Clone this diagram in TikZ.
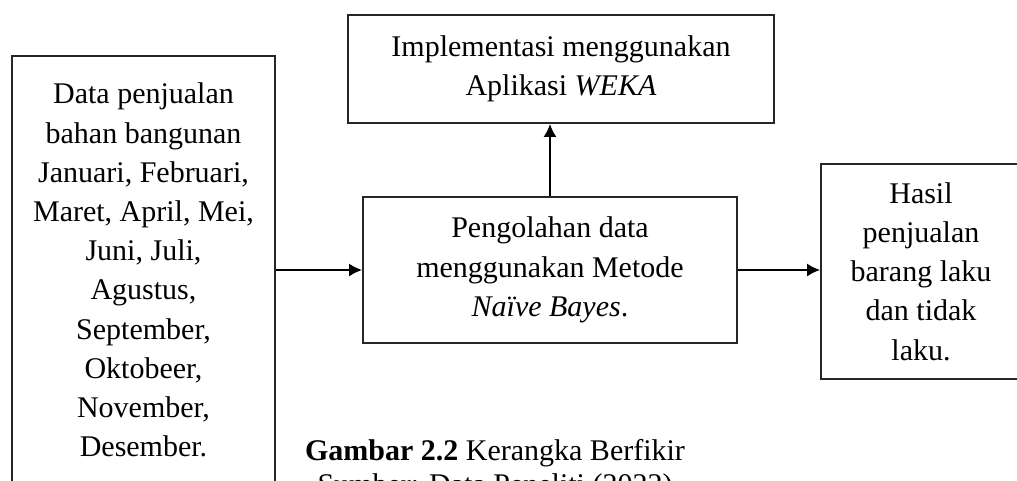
\documentclass[tikz,border=0pt]{standalone}
\usepackage{fontspec}
\setmainfont{Liberation Serif}
\usetikzlibrary{arrows.meta}

\tikzset{
  kotak/.style={draw=black!85, line width=1.8pt, align=center,
    font=\fontsize{30}{39.2}\selectfont, inner sep=0pt},
  panah/.style={line width=1.9pt, -{Latex[length=13pt,width=13pt]}}
}

\begin{document}
\begin{tikzpicture}[x=1pt,y=-1pt]
			\useasboundingbox (0,0) rectangle (1017,480);
			% 数据框（左）
			\node[kotak, minimum width=263pt, minimum height=428pt] (data) at (143.5,270)
				{Data penjualan\\ bahan bangunan\\ Januari, Februari,\\ Maret, April, Mei,\\ Juni, Juli,\\ Agustus,\\ September,\\ Oktobeer,\\ November,\\ Desember.};
			% 处理框（中）
			\node[kotak, minimum width=374pt, minimum height=146pt] (proses) at (550,270)
				{Pengolahan data\\ menggunakan Metode\\ \textit{Naïve Bayes}.};
			% 实现框（上）
			\node[kotak, minimum width=426pt, minimum height=108pt] (weka) at (561,69)
				{Implementasi menggunakan\\ Aplikasi \textit{WEKA}};
			% 结果框（右）
			\node[kotak, minimum width=200pt, minimum height=215pt] (hasil) at (921,271.5)
				{Hasil\\ penjualan\\ barang laku\\ dan tidak\\ laku.};
			
			% 绘制箭头
			\draw[panah] (data.east |- proses.west) -- (proses.west);
			\draw[panah] (proses.north) -- (proses.north |- weka.south);
			\draw[panah] (proses.east) -- (proses.east -| hasil.west);
			
			% 添加图题
			\node[align=center, anchor=base, font=\fontsize{30}{34}\selectfont] (judul) at (495,494)
				{\textbf{Gambar 2.2} Kerangka Berfikir\\ Sumber: Data Peneliti (2022)};
		\end{tikzpicture}
\end{document}
